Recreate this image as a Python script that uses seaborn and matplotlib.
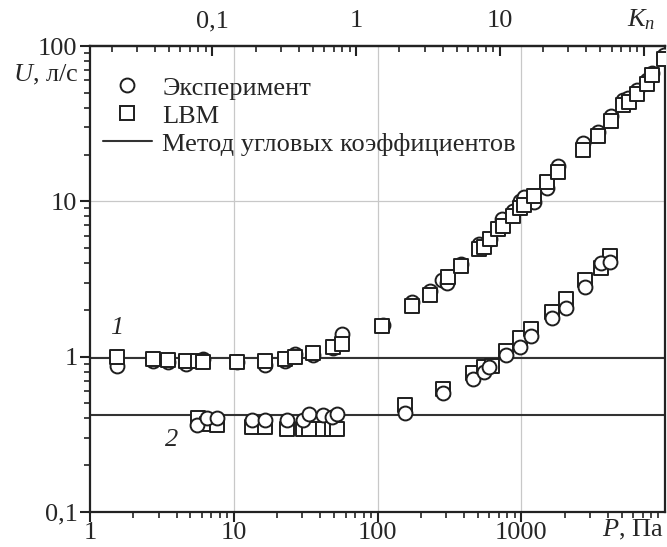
import numpy as np
import pandas as pd
import matplotlib
matplotlib.use("Agg")
import matplotlib.pyplot as plt
import seaborn as sns
from matplotlib.ticker import FixedLocator, NullFormatter, LogLocator
from matplotlib.lines import Line2D

# ---- data ----
P_exp1 = [1.53, 2.76, 3.47, 4.65, 6.14, 10.6, 16.5, 22.7, 26.7, 35.8, 49.3, 56.9,
          110, 173, 232, 280, 304, 381, 511, 607, 731, 871, 980, 1045, 1227, 1518,
          1792, 2703, 3404, 4230, 5120, 5490, 6370, 7500, 8120, 9900]
U_exp1 = [0.875, 0.94, 0.92, 0.90, 0.97, 0.93, 0.89, 0.94, 1.04, 1.02, 1.14, 1.39,
          1.61, 2.24, 2.64, 3.10, 2.98, 3.96, 5.28, 5.7, 7.65, 8.66, 10.05, 10.7, 9.9, 12.1,
          16.9, 23.7, 28.0, 35.5, 44.6, 46.2, 51.9, 60.5, 67.5, 88]
P_lbm1 = [1.53, 2.76, 3.47, 4.65, 5.66, 6.14, 10.6, 16.5, 22.7, 26.7, 35.8, 49.3, 56.9,
          107, 173, 232, 311, 381, 511, 552, 607, 692, 746, 871, 980, 1045, 1227, 1518,
          1792, 2703, 3404, 4230, 5120, 5600, 6370, 7500, 8120, 9900]
U_lbm1 = [1.0, 0.96, 0.95, 0.94, 0.94, 0.93, 0.93, 0.94, 0.96, 1.0, 1.06, 1.16, 1.21,
          1.58, 2.11, 2.51, 3.27, 3.85, 4.9, 5.1, 5.69, 6.6, 6.93, 8.03, 9.0, 9.5, 10.8, 13.3,
          15.4, 21.4, 26.2, 32.9, 41.4, 43.5, 48.9, 57, 65, 82.4]
P_exp2 = [5.52, 6.55, 7.69, 13.5, 16.5, 23.4, 30.5, 33.4, 42, 48, 52.5, 155, 284, 464,
          551, 599, 782, 988, 1164, 1632, 2047, 2781, 3590, 4167]
U_exp2 = [0.364, 0.40, 0.40, 0.39, 0.39, 0.39, 0.39, 0.43, 0.42, 0.41, 0.43, 0.433, 0.583,
          0.718, 0.80, 0.86, 1.02, 1.16, 1.36, 1.78, 2.05, 2.8, 4.0, 4.06]
P_lbm2 = [5.66, 6.55, 7.69, 13.5, 16.5, 23.4, 30.5, 33.4, 42, 48, 52.5, 155, 284, 464,
          551, 622, 782, 988, 1164, 1632, 2047, 2781, 3590, 4167]
U_lbm2 = [0.40, 0.37, 0.365, 0.35, 0.35, 0.34, 0.34, 0.34, 0.34, 0.34, 0.34, 0.49, 0.62,
          0.79, 0.86, 0.87, 1.09, 1.31, 1.51, 1.94, 2.35, 3.1, 3.74, 4.42]
U_method = [0.98, 0.42]
curve_labels = ["1", "2"]
x_ticks = [1, 10, 100, 1000]
x_ticklabels = ["1", "10", "100", "1000"]
y_ticks = [0.1, 1, 10, 100]
y_ticklabels = ["0,1", "1", "10", "100"]
kn_ticks = [0.1, 1, 10, 100]
kn_ticklabels = ["0,1", "1", "10", ""]
KN_FACTOR = 71.0
legend_labels = ["Эксперимент", "LBM", "Метод угловых коэффициентов"]

# ---- style ----
sns.set_style("ticks")
plt.rcParams["font.family"] = ["Liberation Serif", "DejaVu Serif"]
plt.rcParams["mathtext.fontset"] = "custom"
plt.rcParams["mathtext.rm"] = "Liberation Serif"
plt.rcParams["mathtext.it"] = "Liberation Serif:italic"
FS = 19

fig = plt.figure(figsize=(6.67, 5.47), dpi=100)
ax = fig.add_axes([90/667, 1-512/547, (665-90)/667, (512-46)/547])
ax.set_xscale("log")
ax.set_yscale("log")
ax.set_xlim(1, 10000)
ax.set_ylim(0.1, 100)

mk = dict(s=100, facecolor="white", edgecolor="#1e1e1e", linewidth=1.4, legend=False, ax=ax)
sns.scatterplot(x=P_exp1, y=U_exp1, marker="o", zorder=3, **mk)
sns.scatterplot(x=P_lbm1, y=U_lbm1, marker="s", zorder=4, **mk)
sns.scatterplot(x=P_lbm2, y=U_lbm2, marker="s", zorder=3, **mk)
sns.scatterplot(x=P_exp2, y=U_exp2, marker="o", zorder=4, **mk)

for u in U_method:
    ax.axhline(u, color="#333333", lw=1.5, zorder=2)

ax.text(1.54, 1.54, curve_labels[0], fontsize=FS, style="italic", ha="center", va="center")
ax.text(3.72, 0.29, curve_labels[1], fontsize=FS, style="italic", ha="center", va="center")

# grid
for xv in [10, 100, 1000]:
    ax.axvline(xv, color="#c8c8c8", lw=0.9, zorder=0)
for yv in [1, 10]:
    ax.axhline(yv, color="#c8c8c8", lw=0.9, zorder=0)

# ticks
ax.xaxis.set_major_locator(FixedLocator(x_ticks))
ax.set_xticklabels(x_ticklabels)
ax.xaxis.set_minor_locator(LogLocator(base=10, subs=np.arange(2, 10)))
ax.xaxis.set_minor_formatter(NullFormatter())
ax.yaxis.set_major_locator(FixedLocator(y_ticks))
ax.set_yticklabels(y_ticklabels)
ax.yaxis.set_minor_locator(LogLocator(base=10, subs=np.arange(2, 10)))
ax.yaxis.set_minor_formatter(NullFormatter())
ax.tick_params(which="major", direction="out", length=7, width=1.5, labelsize=FS, pad=2, color="#222222")
ax.tick_params(axis="x", which="major", pad=0)
ax.tick_params(which="minor", direction="out", length=4, width=1.2, color="#222222")
for sp in ax.spines.values():
    sp.set_linewidth(1.6)
    sp.set_color("#222222")

sec = ax.secondary_xaxis("top", functions=(lambda p: p / KN_FACTOR, lambda k: k * KN_FACTOR))
sec.xaxis.set_major_locator(FixedLocator(kn_ticks))
sec.set_xticklabels(kn_ticklabels)
sec.xaxis.set_minor_locator(LogLocator(base=10, subs=np.arange(2, 10)))
sec.xaxis.set_minor_formatter(NullFormatter())
sec.tick_params(which="major", direction="in", length=7, width=1.5, labelsize=FS, pad=10, color="#222222")
sec.tick_params(which="minor", direction="in", length=4, width=1.2, color="#222222")
sec.spines["top"].set_linewidth(1.6)

fig.text(641/667, 1-20/547, r"$K_n$", fontsize=FS, ha="center", va="center")
fig.text(664/667, 1-530/547, r"$P$, Па", fontsize=FS, ha="right", va="center")
fig.text(79/667, 1-75/547, r"$U$, л/с", fontsize=FS, ha="right", va="center")

handles = [
    Line2D([], [], marker="o", ls="none", mfc="white", mec="#1e1e1e", mew=1.4, ms=10),
    Line2D([], [], marker="s", ls="none", mfc="white", mec="#1e1e1e", mew=1.4, ms=9.5),
    Line2D([], [], color="#333333", lw=1.5),
]
ax.legend(handles, legend_labels, loc="upper left", bbox_to_anchor=(-0.01, 0.975),
          frameon=False, fontsize=FS, handlelength=1.85, handletextpad=0.4,
          labelspacing=0.17, borderaxespad=0.3)

fig.savefig("out.png", dpi=100)
